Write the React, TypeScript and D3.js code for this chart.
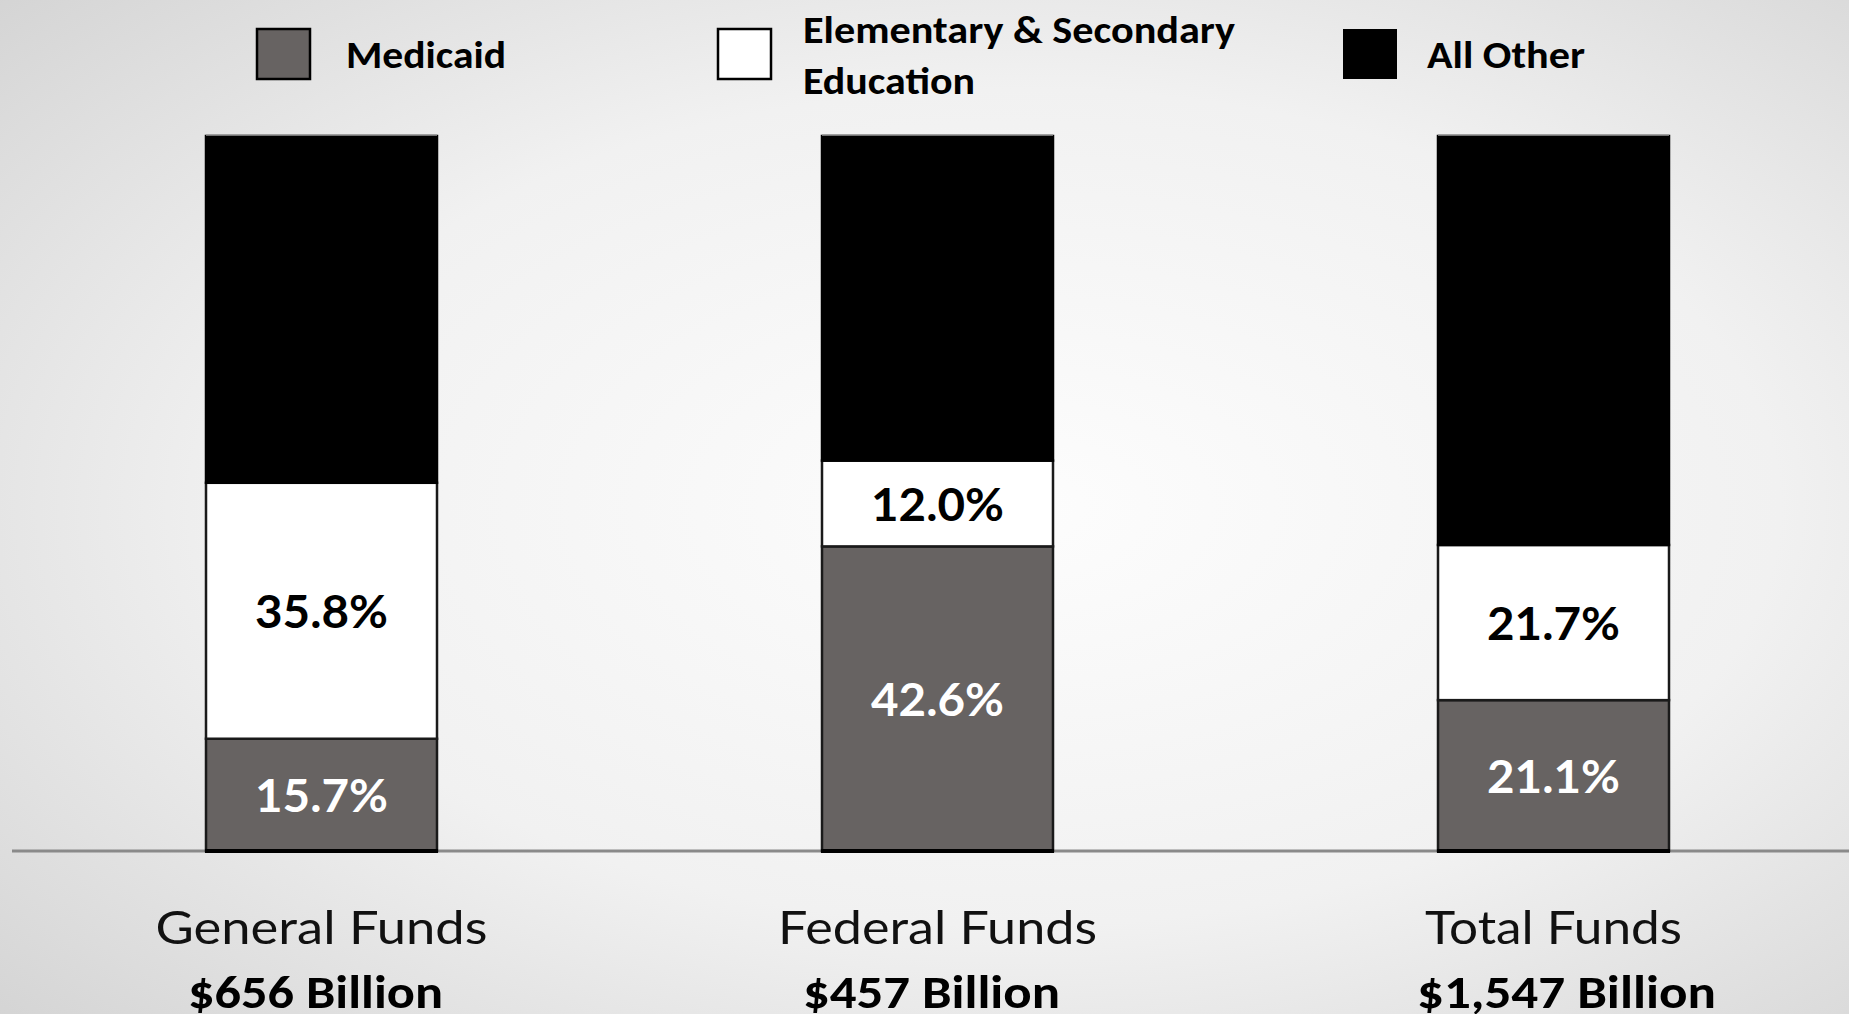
import React from "react";
import * as d3 from "d3";

const categories = ["General Funds", "Federal Funds", "Total Funds"];
const totals = ["$656 Billion", "$457 Billion", "$1,547 Billion"];
const seriesNames = ["Medicaid", "Elementary & Secondary Education", "All Other"];
const medicaid = [15.7, 42.6, 21.1];
const education = [35.8, 12.0, 21.7];
const allOther = [48.5, 45.4, 57.2];

const W = 1849;
const H = 1014;
const colors = ["#676362", "#ffffff", "#000000"];

// layout / styling constants
const catWidths = [332, 319, 257];
const totWidths = [255, 257, 299];
const totOffsets = [-6, -6, 13];

export default function App() {
  const x = d3
    .scaleBand<string>()
    .domain(categories)
    .range([206, 1669])
    .paddingInner(0.625)
    .paddingOuter(0);
  const y = d3.scaleLinear().domain([0, 100]).range([851, 136]);

  const rows = categories.map((c, i) => ({
    cat: c,
    Medicaid: medicaid[i],
    Education: education[i],
    Other: allOther[i],
  }));
  const stack = d3.stack<any>().keys(["Medicaid", "Education", "Other"])(rows);

  const bw = x.bandwidth();

  return (
    <svg
      width={W}
      height={H}
      style={{ position: "absolute", left: 0, top: 0, display: "block" }}
    >
      <defs>
        <radialGradient id="bg" cx="55%" cy="50%" r="75%">
          <stop offset="0%" stopColor="#fdfdfd" />
          <stop offset="55%" stopColor="#f1f1f1" />
          <stop offset="100%" stopColor="#d4d4d4" />
        </radialGradient>
      </defs>
      <rect x={0} y={0} width={W} height={H} fill="url(#bg)" />

      {/* legend */}
      <g fontFamily="Carlito, 'Open Sans', sans-serif" fontWeight={700} fontSize={39} fill="#000">
        <rect x={257} y={29} width={53} height={50} fill={colors[0]} stroke="#000" strokeWidth={2.5} />
        <text x={346} y={68} textLength={160} lengthAdjust="spacingAndGlyphs">{seriesNames[0]}</text>
        <rect x={718} y={29} width={53} height={50} fill={colors[1]} stroke="#000" strokeWidth={2.5} />
        <text x={803} y={43} textLength={432} lengthAdjust="spacingAndGlyphs">Elementary &amp; Secondary</text>
        <text x={803} y={94} textLength={172} lengthAdjust="spacingAndGlyphs">Education</text>
        <rect x={1343} y={29} width={54} height={50} fill={colors[2]} />
        <text x={1427} y={68} textLength={158} lengthAdjust="spacingAndGlyphs">{seriesNames[2]}</text>
      </g>

      {/* axis line */}
      <line x1={12} x2={W} y1={y(0)} y2={y(0)} stroke="#8a8a8a" strokeWidth={3} />

      {/* bars */}
      {stack.map((s, si) => (
        <g key={si}>
          {s.map((d: any, i: number) => (
            <rect
              key={i}
              x={x(categories[i])!}
              y={y(d[1])}
              width={bw}
              height={y(d[0]) - y(d[1])}
              fill={colors[si]}
              stroke={si === 2 ? "#000" : "#1a1a1a"}
              strokeWidth={2.5}
            />
          ))}
        </g>
      ))}
      {/* top light edge of bars */}
      {categories.map((c) => (
        <line key={"t" + c} x1={x(c)!} x2={x(c)! + bw} y1={y(100) - 1} y2={y(100) - 1} stroke="#9a9a9a" strokeWidth={1.5} />
      ))}
      {/* bar bottoms */}
      {categories.map((c) => (
        <line key={"b" + c} x1={x(c)! - 1} x2={x(c)! + bw + 1} y1={y(0)} y2={y(0)} stroke="#000" strokeWidth={4} />
      ))}

      {/* value labels */}
      <g fontFamily="Lato, 'DejaVu Sans', sans-serif" fontWeight={700} fontSize={46} textAnchor="middle">
        {stack.slice(0, 2).map((s, si) =>
          s.map((d: any, i: number) => {
            const cy = (y(d[0]) + y(d[1])) / 2;
            const v = si === 0 ? medicaid[i] : education[i];
            return (
              <text
                key={si + "-" + i}
                x={x(categories[i])! + bw / 2}
                y={cy + 17}
                fill={si === 0 ? "#ffffff" : "#000000"}
                textLength={133}
                lengthAdjust="spacingAndGlyphs"
              >
                {v.toFixed(1) + "%"}
              </text>
            );
          })
        )}
      </g>

      {/* category labels */}
      <g textAnchor="middle">
        {categories.map((c, i) => (
          <text
            key={"c" + c}
            x={x(c)! + bw / 2}
            y={944}
            fontFamily="Lato, 'DejaVu Sans', sans-serif"
            fontSize={46}
            fill="#111"
            textLength={catWidths[i]}
            lengthAdjust="spacingAndGlyphs"
          >
            {c}
          </text>
        ))}
        {totals.map((t, i) => (
          <text
            key={"v" + t}
            x={x(categories[i])! + bw / 2 + totOffsets[i]}
            y={1008}
            fontFamily="Carlito, 'Open Sans', sans-serif"
            fontWeight={700}
            fontSize={46}
            fill="#000"
            textLength={totWidths[i]}
            lengthAdjust="spacingAndGlyphs"
          >
            {t}
          </text>
        ))}
      </g>
    </svg>
  );
}
